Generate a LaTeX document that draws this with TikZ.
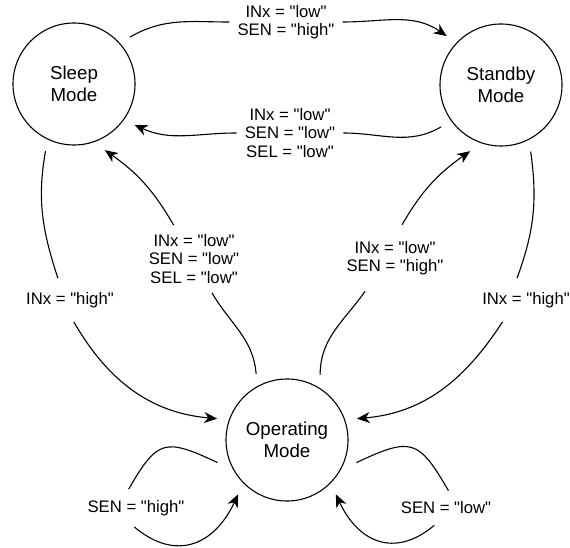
\documentclass[tikz,border=0pt]{standalone}
\usepackage{fontspec}
\setmainfont{Liberation Sans}[Ligatures=TeXOff]
\usetikzlibrary{arrows.meta}

\begin{document}
\begin{tikzpicture}[x=1pt, y=1pt,
  mode/.style={circle, draw, line width=1.1pt, minimum size=122pt,
               inner sep=0pt, outer sep=12pt, align=center,
               font=\fontsize{18.7}{22}\selectfont},
  cond/.style={fill=white, inner xsep=8pt, inner ysep=4pt, align=center,
               font=\fontsize{16.7}{18.5}\selectfont},
  arrow/.style={-{Stealth[length=13pt, width=11pt, inset=4pt]}, line width=1.1pt},
]
  \useasboundingbox (0,0) rectangle (570,-548);

  \node[mode] (sleep) at (74,-84) {Sleep\\Mode};
  \node[mode] (standby) at (501,-85) {Standby\\Mode};
  \node[mode] (op) at (287,-440) {Operating\\Mode};

  \node[cond] (l1) at (286,-22) {INx = "low"\\SEN = "high"};
  \node[cond] (l2) at (290,-133) {INx = "low"\\SEN = "low"\\SEL = "low"};
  \node[cond, inner ysep=9pt] (l3) at (194,-259) {INx = "low"\\SEN = "low"\\SEL = "low"};
  \node[cond, inner ysep=16pt] (l4) at (395,-258) {INx = "low"\\SEN = "high"};
  \node[cond, inner ysep=14pt] (l5) at (70,-300) {INx = "high"};
  \node[cond, inner ysep=14pt] (l6) at (526,-300) {INx = "high"};
  \node[cond, inner ysep=11pt] (l7) at (136,-508) {SEN = "high"};
  \node[cond, inner ysep=11pt] (l8) at (446,-508) {SEN = "low"};

  \draw[arrow] (sleep.40) to[out=30, in=180] (l1) to[out=0, in=145] (standby.138);
  \draw[arrow] (standby.215) to[out=210, in=0] (l2) to[out=180, in=-25] (sleep.-34);
  \draw[arrow] (op.115) to[out=95, in=-60] (l3.-62) (l3.121) to[out=120, in=-35] (sleep.-65);
  \draw[arrow] (op.63) to[out=90, in=-125] (l4.-132) (l4.78) to[out=60, in=-145] (standby.-115);
  \draw[arrow] (sleep.-113) to[out=-100, in=108] (l5.119)
    (l5.-80) to[out=-60, in=175] (op.163);
  \draw[arrow] (standby.-66) to[out=-82, in=70] (l6.112)
    (l6.-137) to[out=-123, in=5] (op.17);
  \draw[arrow] (op.198) to[out=155, in=60, looseness=1.6] (l7.111)
    (l7.-95) to[out=-40, in=-115, looseness=1.3] (op.-132);
  \draw[arrow] (op.-18) to[out=25, in=120, looseness=1.6] (l8.82)
    (l8.-124) to[out=-140, in=-65, looseness=1.3] (op.-48);
\end{tikzpicture}
\end{document}
